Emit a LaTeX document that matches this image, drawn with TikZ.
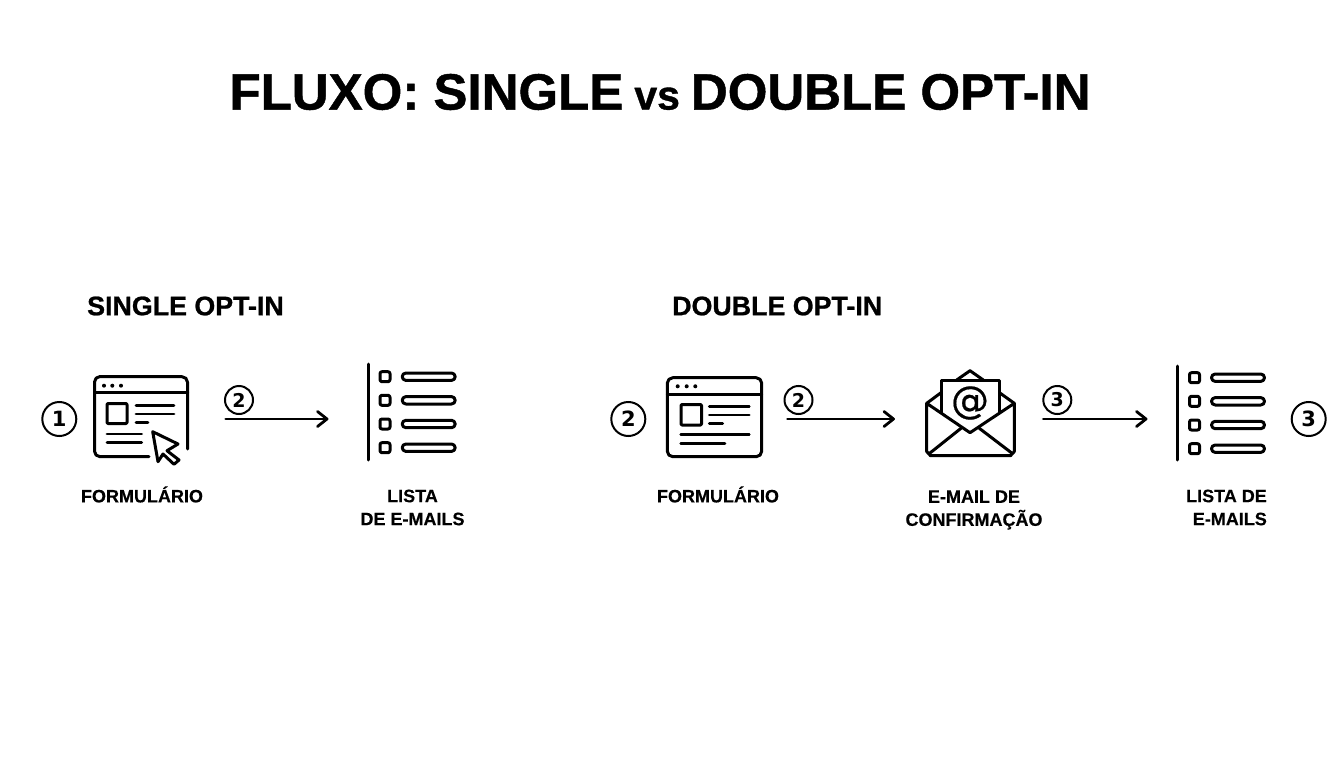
\documentclass[tikz,border=0pt]{standalone}
\usepackage{fontspec}
\setmainfont{Liberation Sans}
\newfontfamily\heavy{Liberation Sans}[UprightFont=* Bold,BoldFont=* Bold,FakeBold=0.25]
\newfontfamily\heavier{Liberation Sans}[UprightFont=* Bold,BoldFont=* Bold,FakeBold=0.9]
\newfontfamily\digits{DejaVu Sans}[UprightFont=* Bold,BoldFont=* Bold]
\newfontfamily\atfont{DejaVu Sans}[FakeBold=0.5]
\begin{document}
\begin{tikzpicture}[x=1pt,y=-1pt,
  ico/.style={draw=black,line width=3pt,line cap=round,line join=round},
  thinico/.style={draw=black,line width=2.7pt,line cap=round,line join=round},
  flow/.style={draw=black,line width=2.8pt,line cap=round,line join=round},
  badge/.style={circle,draw=black,line width=2pt,inner sep=0pt,fill=white,font=\digits\fontsize{#1}{#1}\selectfont},
  lbl/.style={inner sep=0pt,font=\heavy\fontsize{18}{23}\selectfont},
  head/.style={inner sep=0pt,font=\heavier\fontsize{26.8}{27}\selectfont}]
\useasboundingbox (0,0) rectangle (1344,768);
\fill[white] (0,0) rectangle (1344,768);
\node[inner sep=0pt,font=\heavier] (title) at (660,92) {\fontsize{51}{51}\selectfont FLUXO: SINGLE\hspace{11pt}{\fontsize{41}{41}\selectfont vs}\hspace{11pt}DOUBLE OPT-IN};
\node[head,anchor=west] (hA) at (87,306) {SINGLE OPT-IN};
\node[head,anchor=west] (hB) at (672,306) {DOUBLE OPT-IN};
% form A
\draw[ico] (149,456.7) -- (100,456.7) arc[start angle=90,end angle=180,radius=5.5] -- (94.5,382) arc[start angle=180,end angle=270,radius=5.5] -- (182,376.7) arc[start angle=-90,end angle=0,radius=5.5] -- (187.7,449);
\draw[ico] (94.5,392) -- (187.7,392);
\foreach \x in {104,112.3,121} \fill (\x,385.7) circle[radius=2];
\draw[ico,rounded corners=1pt] (107,403.5) rectangle (127,423.5);
\draw[thinico] (136,405.7) -- (174,405.7) (136,414) -- (174,414) (136,422.7) -- (148,422.7) (107,434) -- (141.7,434) (107,442.3) -- (141.7,442.3);
\draw[ico] (152.7,431.7) -- (178,444) -- (167,450.7) -- (179,460) -- (174,464.3) -- (163,454) -- (158,461.7) -- cycle;
\node[lbl] (fA) at (142,494.5) {FORMULÁRIO};
% list A
\draw[ico] (368,364) -- (368,460);
\foreach \y in {376.7,400.3,424,447.7} {
  \draw[ico,rounded corners=2pt] (380,\y-5) rectangle (390,\y+5);
  \draw[ico,rounded corners=3.7pt] (402.2,\y-3.7) rectangle (455.2,\y+3.7);
}
\node[lbl,align=center] (lA) at (412.5,507.5) {LISTA\\DE E-MAILS};
% form B
\draw[ico,rounded corners=5.5pt] (667.3,377.7) rectangle (761.7,456.7);
\draw[ico] (667.3,394) -- (761.7,394);
\foreach \x in {677.7,686.7,695.3} \fill (\x,386.3) circle[radius=2];
\draw[ico,rounded corners=1pt] (681,404.5) rectangle (701.5,425);
\draw[thinico] (709.3,406.3) -- (749.3,406.3) (709.3,415) -- (749.3,415) (709.3,423.7) -- (722.7,423.7) (680.7,434.3) -- (749.3,434.3) (680.7,443.7) -- (725,443.7);
\node[lbl] (fB) at (718,494.5) {FORMULÁRIO};
% envelope
\draw[ico] (926.7,403.3) -- (926.7,451.5) -- (930.5,455.7) -- (1010.5,455.7) -- (1014.3,451.5) -- (1014.3,403.3) -- (970,432.7) -- cycle;
\draw[ico] (926.7,403.3) -- (941,392.7) (1014.3,403.3) -- (999.5,392.7);
\draw[ico] (941,413) -- (941,380.7) -- (999.5,380.7) -- (999.5,413);
\draw[ico] (956.7,380) -- (970,370.7) -- (983.3,380);
\draw[ico] (930,453) -- (961,428.3) (1011.7,453) -- (979.3,428.3);
\node[inner sep=0pt,font=\atfont\fontsize{38}{38}\selectfont] (at) at (970,403) {@};
\node[lbl,align=center] (eB) at (974,510) {E-MAIL DE\\CONFIRMAÇÃO};
% list B
\draw[ico] (1177.7,366) -- (1177.7,460);
\foreach \y in {377.7,401.3,425,448.7} {
  \draw[ico,rounded corners=2pt] (1189.5,\y-5) rectangle (1199.5,\y+5);
  \draw[ico,rounded corners=3.7pt] (1211.5,\y-3.7) rectangle (1264.5,\y+3.7);
}
\node[lbl,align=right,anchor=east] (lB) at (1267,507.5) {LISTA DE\\E-MAILS};
% badges
\node[badge=21,minimum size=34pt] (b1) at (59.3,419) {1};
\node[badge=21,minimum size=34pt] (b2) at (628.3,419) {2};
\node[badge=21,minimum size=34pt] (b3) at (1308.7,419) {3};
\node[badge=19,minimum size=28pt] (s1) at (239,400) {2};
\node[badge=19,minimum size=28pt] (s2) at (798.5,400) {2};
\node[badge=19,minimum size=28pt] (s3) at (1057.3,400) {3};
% arrows
\coordinate (a1s) at (225.7,419); \coordinate (a1e) at (327,419);
\coordinate (a2s) at (787.5,419); \coordinate (a2e) at (893.5,419);
\coordinate (a3s) at (1043.3,419); \coordinate (a3e) at (1146,419);
\foreach \s/\e in {a1s/a1e,a2s/a2e,a3s/a3e} {
  \draw[flow] (\s) -- (\e);
  \draw[flow] ([shift={(-9.5,-7.5)}]\e) -- (\e) -- ([shift={(-9.5,7.5)}]\e);
}
\end{tikzpicture}
\end{document}
